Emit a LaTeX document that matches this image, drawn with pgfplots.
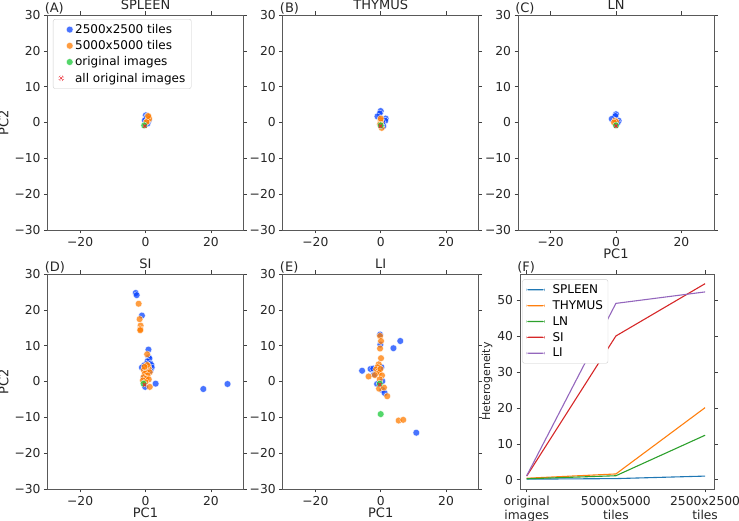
\documentclass[border=0pt]{standalone}
\usepackage{pgfplots}
\pgfplotsset{compat=1.18}
\usepackage{fontspec}
\setmainfont{DejaVu Sans}
\definecolor{sbblue}{HTML}{023EFF}
\definecolor{sborange}{HTML}{FF7C00}
\definecolor{sbgreen}{HTML}{1AC938}
\definecolor{sbred}{HTML}{E8000B}
\definecolor{tabblue}{HTML}{1F77B4}
\definecolor{taborange}{HTML}{FF7F0E}
\definecolor{tabgreen}{HTML}{2CA02C}
\definecolor{tabred}{HTML}{D62728}
\definecolor{tabpurple}{HTML}{9467BD}
\definecolor{txt}{HTML}{262626}
\newcommand{\fs}{\fontsize{12.3}{14}\selectfont}
\newcommand{\fl}{\fontsize{12}{14}\selectfont}
\newcommand{\ft}{\fontsize{13}{15}\selectfont}
\pgfplotsset{
  base/.style={scale only axis, height=215pt, clip mode=individual,
    tick align=outside, major tick length=3.5pt,
    tick style={black!75, line width=0.6pt},
    axis line style={black!65, line width=0.8pt},
    tick label style={font=\fs, text=txt},
    label style={font=\ft, text=txt},
    xlabel style={yshift=4pt},
    ylabel style={yshift=-1pt},
    title style={font=\ft, text=txt, yshift=-4pt},
  },
  sc/.style={base, width=196pt, xmin=-30, xmax=30, ymin=-30, ymax=30,
    xtick={-20,0,20}, xticklabels={−20,0,20},
    ytick={-30,-20,-10,0,10,20,30}, yticklabels={−30,−20,−10,0,10,20,30},
  },
  pb/.style={only marks, mark=*, mark size=3.4pt, mark options={draw=white, line width=0.3pt, fill=sbblue, fill opacity=0.72}},
  po/.style={only marks, mark=*, mark size=3.4pt, mark options={draw=white, line width=0.3pt, fill=sborange, fill opacity=0.75}},
  pg/.style={only marks, mark=*, mark size=3.4pt, mark options={draw=white, line width=0.3pt, fill=sbgreen, fill opacity=0.75}},
  px/.style={only marks, mark=x, mark size=2.4pt, mark options={draw=sbred!85, line width=0.9pt},
    legend image code/.code={
      \path[draw=none, fill=none] (-4pt,-4pt) rectangle (4pt,4pt);
      \fill[draw=none, fill=sbred!80, rotate=45] (-2.6pt,-0.45pt) rectangle (2.6pt,0.45pt);
      \fill[draw=none, fill=sbred!80, rotate=-45] (-2.6pt,-0.45pt) rectangle (2.6pt,0.45pt);}},
  ln/.style={color=#1, line width=1.1pt,
    legend image code/.code={\path[draw=none, fill=none] (-1pt,-1pt) rectangle (24pt,1pt); \fill[draw=none, fill=#1] (0pt,-0.65pt) rectangle (18pt,0.65pt);}},
}
\begin{document}
\begin{tikzpicture}
\useasboundingbox (0,0) rectangle (739pt,521pt);
% (A) SPLEEN
\begin{axis}[sc, at={(47.5pt,291pt)}, anchor=south west, title={SPLEEN}, ylabel={PC2},
  legend style={at={(0.028,0.981)}, anchor=north west, font=\fl, draw=black!20, rounded corners=2pt, row sep=1.6pt, inner xsep=4pt, inner ysep=3pt},
  legend cell align=left]
\addplot[pb] coordinates {(0.1,2.0) (0.5,1.6) (0.2,1.1) (1.0,0.6) (-0.2,0.6) (0.6,-0.3)};
\addlegendentry{2500x2500 tiles}
\addplot[po] coordinates {(1.0,1.5) (0.6,0.5) (1.1,1.0) (0.3,0.1) (0.8,1.8)};
\addlegendentry{5000x5000 tiles}
\addplot[pg] coordinates {(-0.4,-0.8)};
\addlegendentry{original images}
\addplot[px] coordinates {(-0.2,-1.0)};
\addlegendentry{all original images}
\node[anchor=south west, font=\ft, text=txt, inner sep=1pt] at (rel axis cs:-0.02,1) {(A)};
\end{axis}
% (B) THYMUS
\begin{axis}[sc, at={(282.7pt,291pt)}, anchor=south west, title={THYMUS}]
\addplot[pb] coordinates {(0.0,3.2) (-0.3,2.5) (-1.0,1.7) (1.5,1.1) (1.4,0.5) (0.8,-1.0) (0.5,0.1)};
\addplot[po] coordinates {(0.0,0.6) (0.0,0.0) (-0.2,-0.5) (0.3,-1.5) (0.0,1.1)};
\addplot[pg] coordinates {(0.0,-0.8)};
\addplot[px] coordinates {(-0.1,-1.0)};
\node[anchor=south west, font=\ft, text=txt, inner sep=1pt] at (rel axis cs:-0.02,1) {(B)};
\end{axis}
% (C) LN
\begin{axis}[sc, at={(518pt,291pt)}, anchor=south west, title={LN}, xlabel={PC1}]
\addplot[pb] coordinates {(0.0,2.3) (-0.2,1.8) (-1.3,1.0) (0.8,0.5) (0.5,0.0)};
\addplot[po] coordinates {(-0.3,0.5) (0.0,0.2) (-0.6,0.0)};
\addplot[pg] coordinates {(0.0,-0.8)};
\addplot[px] coordinates {(0.0,-1.0)};
\node[anchor=south west, font=\ft, text=txt, inner sep=1pt] at (rel axis cs:-0.02,1) {(C)};
\end{axis}
% (D) SI
\begin{axis}[sc, at={(47.5pt,32pt)}, anchor=south west, title={SI}, xlabel={PC1}, ylabel={PC2}]
\addplot[pb] coordinates {(-3.0,24.7) (-2.7,24.1) (-1.1,18.4) (0.9,8.9) (1.0,6.7) (1.2,6.4) (0.6,5.6) (1.5,5.0) (1.8,4.6) (0.3,4.9) (-0.4,4.5) (-1.1,3.9) (1.9,3.9) (0.8,3.5) (1.5,3.0) (3.1,-0.6) (17.7,-2.1) (25.1,-0.7) (-0.1,-1.5) (-0.5,1.0)};
\addplot[po] coordinates {(-2.1,21.7) (-1.8,17.4) (-1.5,15.6) (-1.6,14.6) (-1.6,14.3) (0.5,7.6) (0.8,4.3) (0.2,3.8) (1.0,3.5) (-0.5,3.2) (0.4,2.8) (1.3,2.6) (-0.2,2.2) (0.6,1.7) (-0.6,1.2) (0.2,0.8) (1.0,0.6) (-0.8,0.3) (0.0,-0.2) (1.3,-1.5) (0.5,4.6) (-0.3,4.1)};
\addplot[pg] coordinates {(-0.6,-0.6)};
\addplot[px] coordinates {(-0.3,-0.9)};
\node[anchor=south west, font=\ft, text=txt, inner sep=1pt] at (rel axis cs:-0.02,1) {(D)};
\end{axis}
% (E) LI
\begin{axis}[sc, at={(282.7pt,32pt)}, anchor=south west, title={LI}, xlabel={PC1}]
\addplot[pb] coordinates {(-0.2,13.1) (6.0,11.3) (-0.1,10.3) (3.9,9.3) (0.2,4.0) (-5.7,3.0) (-3.1,3.5) (-2.3,3.6) (-2.0,2.0) (0.5,0.1) (-1.1,-0.7) (0.5,-2.4) (1.2,-3.2) (10.9,-14.3)};
\addplot[po] coordinates {(-0.2,12.7) (0.1,11.3) (-0.2,9.2) (0.1,6.5) (-0.6,4.8) (-1.0,4.0) (-1.4,3.4) (-0.8,2.9) (-0.5,2.5) (-3.7,1.4) (-1.8,1.8) (0.4,1.7) (-0.3,0.6) (-0.5,-2.0) (1.0,-1.7) (2.0,-4.1) (5.5,-10.9) (6.9,-10.7) (-0.1,3.5)};
\addplot[pg] coordinates {(0.0,-9.1) (-0.3,-0.6)};
\addplot[px] coordinates {(-0.3,-0.9)};
\node[anchor=south west, font=\ft, text=txt, inner sep=1pt] at (rel axis cs:-0.02,1) {(E)};
\end{axis}
% (F) Heterogeneity
\begin{axis}[base, at={(520pt,32pt)}, anchor=south west, width=194pt,
  xmin=-0.075, xmax=2.1, ymin=-2.6, ymax=57.4,
  xtick={0,1,2}, xticklabels={original\\images, 5000x5000\\tiles, 2500x2500\\tiles},
  xticklabel style={align=center, text depth=0pt},
  ytick={0,10,20,30,40,50}, yticklabels={0,10,20,30,40,50},
  ylabel={Heterogeneity}, ylabel style={font=\fontsize{11}{13}\selectfont, yshift=-1pt},
  legend style={at={(0.012,0.975)}, anchor=north west, font=\fl, draw=black!20, fill=white, rounded corners=2pt, row sep=1.5pt, inner xsep=3pt, inner ysep=3pt},
  legend cell align=left]
\addplot[ln=tabblue] coordinates {(0,0.15) (1,0.3) (2,1.0)};
\addlegendentry{SPLEEN}
\addplot[ln=taborange] coordinates {(0,0.4) (1,1.6) (2,20.1)};
\addlegendentry{THYMUS}
\addplot[ln=tabgreen] coordinates {(0,0.25) (1,1.1) (2,12.4)};
\addlegendentry{LN}
\addplot[ln=tabred] coordinates {(0,1.0) (1,40.1) (2,54.7)};
\addlegendentry{SI}
\addplot[ln=tabpurple] coordinates {(0,1.1) (1,49.2) (2,52.4)};
\addlegendentry{LI}
\node[anchor=south west, font=\ft, text=txt, inner sep=1pt] at (rel axis cs:-0.02,1) {(F)};
\end{axis}
\end{tikzpicture}
\end{document}
